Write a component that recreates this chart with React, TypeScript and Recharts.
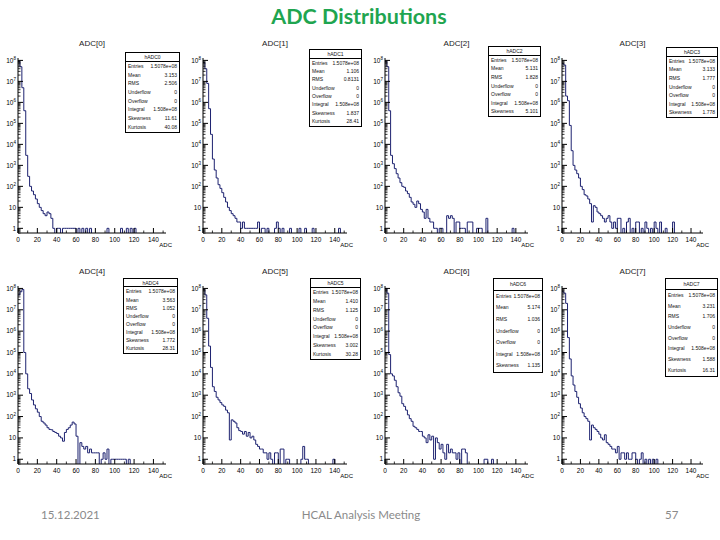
import React from 'react';
import { ComposedChart, Line, XAxis, YAxis } from 'recharts';

// ADC histograms, bin width 2 ADC counts, first bin starts at 0
const BIN = 2;

const adc0 = [
  9e7, 5e7, 5e6, 4e5, 3000, 300, 100, 60, 40, 25,
  15, 10, 7, 5, 4, 6, 5, 3, 1, 0,
  1, 1, 0, 1, 1, 1, 1, 1, 1, 1,
  0, 1, 0, 1, 0, 1, 0, 1, 0, 0,
  0, 0, 0, 0, 0, 0, 1, 0, 0, 0,
  0, 0, 0, 1, 0, 0, 1, 0, 1, 0,
  1, 0,
];
const adc1 = [
  8e7, 4e7, 8e6, 5e5, 3e4, 2000, 600, 250, 120, 80,
  50, 30, 18, 10, 7, 5, 4, 3, 2, 2,
  1, 2, 1, 1, 1, 1, 1, 1, 1, 2,
  0, 1, 1, 0, 1, 0, 0, 0, 1, 2,
  1, 0, 1, 0, 0, 0, 1, 0, 0, 0,
  0, 1, 0, 0, 1, 0, 0, 0, 1, 0,
  0, 0, 0, 0, 0, 0, 0, 0, 0, 0,
  0, 0, 1, 0,
];
const adc2 = [
  9e7, 5e7, 4e5, 3000, 1200, 700, 400, 250, 150, 100,
  90, 60, 45, 30, 18, 14, 10, 20, 15, 8,
  6, 3, 8, 3, 2, 2, 1, 1, 0, 1,
  1, 0, 0, 4, 3, 4, 3, 0, 2, 2,
  1, 1, 1, 0, 2, 2, 2, 0, 0, 1,
  1, 1, 0, 0, 3, 0, 0, 0, 0, 0,
  0, 0, 0, 0, 0, 0, 0, 0, 1, 0,
];
const adc3 = [
  7e7, 6e7, 2e6, 1.2e6, 8e4, 5000, 1000, 600, 400, 250,
  100, 70, 40, 35, 25, 15, 2, 12, 10, 6,
  5, 4, 3, 2, 3, 4, 2, 1, 2, 1,
  3, 3, 0, 1, 0, 2, 3, 0, 1, 0,
  2, 2, 0, 1, 0, 2, 1, 0, 1, 0,
  2, 1, 0, 2, 0, 0, 1, 0, 0, 0,
  2, 0,
];
const adc4 = [
  5e7, 7e7, 9e7, 1e5, 1e4, 2000, 1200, 600, 350, 230,
  160, 100, 60, 50, 40, 30, 25, 24, 20, 18,
  16, 12, 10, 7, 18, 25, 30, 40, 55, 45,
  12, 0, 6, 4, 3, 4, 2, 3, 2, 2,
  2, 2, 0, 1, 2, 1, 3, 0, 1, 1,
  1, 1, 1, 1, 1, 1, 0, 1, 0,
];
const adc5 = [
  9e7, 5e7, 4e6, 2e5, 2e4, 2500, 1500, 800, 600, 450,
  350, 300, 200, 150, 8, 70, 60, 50, 30, 22,
  20, 15, 20, 12, 18, 10, 12, 8, 5, 4,
  3, 3, 2, 2, 1, 2, 1, 0, 2, 2,
  0, 3, 3, 0, 1, 1, 0, 0, 0, 0,
  0, 0, 1, 4, 1, 1, 0, 0, 0, 0,
  0, 0, 0, 0, 0, 0, 0, 0, 0, 1,
  0,
];
const adc6 = [
  1e8, 6e7, 8e4, 1e4, 8000, 5000, 2500, 1300, 900, 400,
  300, 200, 120, 80, 60, 35, 30, 25, 20, 20,
  12, 10, 6, 14, 8, 12, 1, 10, 6, 3,
  5, 2, 1, 5, 2, 3, 2, 2, 1, 2,
  0, 3, 3, 2, 0, 0, 0, 0, 0, 0,
  0, 0, 0, 1, 1, 0, 0, 1, 0,
];
const adc7 = [
  7e7, 6e7, 2e7, 5e5, 5e4, 8000, 3000, 1500, 800, 400,
  250, 150, 100, 80, 60, 8, 40, 30, 25, 20,
  15, 10, 8, 14, 6, 5, 4, 3, 3, 2,
  4, 1, 2, 2, 1, 2, 1, 1, 2, 2,
  1, 0, 1, 2, 0, 1, 0, 1, 0, 1,
  0, 1, 0,
];
const histos = [adc0, adc1, adc2, adc3, adc4, adc5, adc6, adc7];

const titles = ['ADC[0]', 'ADC[1]', 'ADC[2]', 'ADC[3]', 'ADC[4]', 'ADC[5]', 'ADC[6]', 'ADC[7]'];
const statNames = ['hADC0', 'hADC1', 'hADC2', 'hADC3', 'hADC4', 'hADC5', 'hADC6', 'hADC7'];
const statLabels = ['Entries', 'Mean', 'RMS', 'Underflow', 'Overflow', 'Integral', 'Skewness', 'Kurtosis'];
const statValues = [
  ['1.5078e+08', '3.153', '2.506', '0', '0', '1.508e+08', '11.61', '40.08'],
  ['1.5078e+08', '1.106', '0.8131', '0', '0', '1.508e+08', '1.837', '28.41'],
  ['1.5078e+08', '5.131', '1.828', '0', '0', '1.508e+08', '5.101'],
  ['1.5078e+08', '3.133', '1.777', '0', '0', '1.508e+08', '1.778'],
  ['1.5078e+08', '3.563', '1.052', '0', '0', '1.508e+08', '1.772', '28.31'],
  ['1.5078e+08', '1.410', '1.125', '0', '0', '1.508e+08', '3.002', '30.28'],
  ['1.5078e+08', '5.174', '1.036', '0', '0', '1.508e+08', '1.135'],
  ['1.5078e+08', '3.231', '1.706', '0', '0', '1.508e+08', '1.588', '16.31'],
];

const xTicks = [0, 20, 40, 60, 80, 100, 120, 140];
const xMinorTicks = [10, 30, 50, 70, 90, 110, 130, 150];
const yTicks = [1, 10, 100, 1e3, 1e4, 1e5, 1e6, 1e7, 1e8];
const yMinorSteps = [2, 3, 4, 5, 6, 7, 8, 9];

const X_MAX = 153;
const Y_MIN = 0.6;
const Y_MAX = 1.3e8;
const EMPTY = 0.3; // empty bins drop below the frame like ROOT's log view

// layout
const colLeft = [18, 203, 385, 562];
const colWidth = [148, 144, 143, 141];
const rowTop = [58, 286];
const rowHeight = [175, 178];
const statBox = [
  [125, 52, 55, 81],
  [309, 49, 53, 78],
  [488, 46, 53, 71],
  [666, 47, 52, 71],
  [123, 278, 55, 76],
  [310, 278, 51, 82],
  [493, 278, 50, 95],
  [665, 278, 53, 99],
];

const Y_AXIS_W = 26;
const X_AXIS_H = 20;
const PAD_TOP = 6;
const PAD_RIGHT = 8;
const HIST_COLOR = '#1d2270';
const TICK_FONT = '"Liberation Sans", Arial, sans-serif';

const yMinor: number[] = [];
[0.1, ...yTicks.slice(0, -1)].forEach((d) =>
  yMinorSteps.forEach((m) => {
    const v = m * d;
    if (v >= Y_MIN && v <= Y_MAX) yMinor.push(v);
  })
);
const allYTicks = [...yTicks, ...yMinor];
const allXTicks = [...xTicks, ...xMinorTicks.filter((v) => v <= X_MAX)];

const XTick = (props: any) => {
  const { x, y, payload } = props;
  const v = payload.value;
  if (!xTicks.includes(v)) {
    return <line x1={x} x2={x} y1={y} y2={y - 2.5} stroke="#000" strokeWidth={0.8} />;
  }
  return (
    <g>
      <line x1={x} x2={x} y1={y} y2={y - 5} stroke="#000" strokeWidth={1} />
      <text x={x} y={y + 9} textAnchor="middle" fontSize={6.5} fontFamily={TICK_FONT} fill="#000">
        {v}
      </text>
    </g>
  );
};

const YTick = (props: any) => {
  const { x, y, payload } = props;
  const v = payload.value;
  if (!yTicks.includes(v)) {
    return <line x1={x} x2={x + 2.5} y1={y} y2={y} stroke="#000" strokeWidth={0.8} />;
  }
  const exp = Math.round(Math.log10(v));
  return (
    <g>
      <line x1={x} x2={x + 5} y1={y} y2={y} stroke="#000" strokeWidth={1} />
      <text x={x - 2} y={y + 2.2} textAnchor="end" fontSize={6.5} fontFamily={TICK_FONT} fill="#000">
        {exp <= 1 ? (
          String(v)
        ) : (
          <>
            <tspan>10</tspan>
            <tspan dy={-2.8} fontSize={4.5}>{exp}</tspan>
          </>
        )}
      </text>
    </g>
  );
};

const Panel = ({ idx }: { idx: number }) => {
  const col = idx % 4;
  const row = Math.floor(idx / 4);
  const fl = colLeft[col];
  const fw = colWidth[col];
  const ft = rowTop[row];
  const fh = rowHeight[row];
  const counts = histos[idx];
  const data = counts.map((c, i) => ({ x: i * BIN, c: c > 0 ? c : EMPTY }));
  data.push({ x: counts.length * BIN, c: EMPTY });

  return (
    <>
      <div
        style={{
          position: 'absolute',
          left: fl + fw / 2 - 40,
          width: 80,
          top: ft - 19,
          textAlign: 'center',
          fontSize: 8,
          fontFamily: TICK_FONT,
          color: '#222',
        }}
      >
        {titles[idx]}
      </div>
      <div style={{ position: 'absolute', left: fl - Y_AXIS_W, top: ft - PAD_TOP }}>
        <ComposedChart
          width={Y_AXIS_W + fw + PAD_RIGHT}
          height={PAD_TOP + fh + X_AXIS_H}
          data={data}
          margin={{ top: PAD_TOP, right: PAD_RIGHT, left: 0, bottom: 0 }}
        >
          <XAxis
            xAxisId="b"
            dataKey="x"
            type="number"
            domain={[0, X_MAX]}
            allowDataOverflow
            ticks={allXTicks}
            interval={0}
            tick={(p: any) => <XTick {...p} />}
            tickSize={0}
            tickMargin={0}
            tickLine={false}
            height={X_AXIS_H}
            axisLine={{ stroke: '#000' }}
          />
          <XAxis
            xAxisId="t"
            orientation="top"
            type="number"
            domain={[0, X_MAX]}
            tick={false}
            tickLine={false}
            height={0}
            axisLine={{ stroke: '#000' }}
          />
          <YAxis
            yAxisId="l"
            type="number"
            scale="log"
            domain={[Y_MIN, Y_MAX]}
            allowDataOverflow
            ticks={allYTicks}
            interval={0}
            tick={(p: any) => <YTick {...p} />}
            tickSize={0}
            tickMargin={0}
            tickLine={false}
            width={Y_AXIS_W}
            axisLine={{ stroke: '#000' }}
          />
          <YAxis
            yAxisId="r"
            orientation="right"
            type="number"
            scale="log"
            domain={[Y_MIN, Y_MAX]}
            allowDataOverflow
            tick={false}
            tickLine={false}
            width={0}
            axisLine={{ stroke: '#000' }}
          />
          <Line
            xAxisId="b"
            yAxisId="l"
            type="stepAfter"
            dataKey="c"
            stroke={HIST_COLOR}
            strokeWidth={1}
            dot={false}
            isAnimationActive={false}
          />
        </ComposedChart>
      </div>
      <div
        style={{
          position: 'absolute',
          left: fl + fw - 14,
          width: 20,
          top: ft + fh + 9,
          textAlign: 'right',
          fontSize: 6,
          fontFamily: TICK_FONT,
          color: '#000',
        }}
      >
        ADC
      </div>
    </>
  );
};

const StatBox = ({ idx }: { idx: number }) => {
  const [l, t, w, h] = statBox[idx];
  const vals = statValues[idx];
  const rowH = h / (vals.length + 1);
  return (
    <div
      style={{
        position: 'absolute',
        left: l,
        top: t,
        width: w,
        height: h,
        boxSizing: 'border-box',
        border: '1px solid #000',
        background: '#fff',
        fontFamily: TICK_FONT,
        fontSize: 5,
        color: '#111',
      }}
    >
      <div
        style={{
          height: rowH,
          lineHeight: `${rowH}px`,
          textAlign: 'center',
          borderBottom: '1px solid #000',
          boxSizing: 'border-box',
        }}
      >
        {statNames[idx]}
      </div>
      {vals.map((v, i) => (
        <div
          key={i}
          style={{
            height: rowH - 0.3,
            lineHeight: `${rowH - 0.3}px`,
            display: 'flex',
            justifyContent: 'space-between',
            padding: '0 2px',
          }}
        >
          <span>{statLabels[i]}</span>
          <span>{v}</span>
        </div>
      ))}
    </div>
  );
};

export default function App() {
  const ids = [0, 1, 2, 3, 4, 5, 6, 7];
  return (
    <div
      style={{
        position: 'absolute',
        left: 0,
        top: 0,
        width: 720,
        height: 540,
        background: '#fff',
        overflow: 'hidden',
      }}
    >
      <div
        style={{
          position: 'absolute',
          left: 0,
          width: 718,
          top: 3,
          textAlign: 'center',
          fontFamily: 'Lato, "Open Sans", sans-serif',
          fontWeight: 700,
          fontSize: 21.5,
          color: '#1fa550',
        }}
      >
        ADC Distributions
      </div>
      {ids.map((i) => (
        <Panel key={`p${i}`} idx={i} />
      ))}
      {ids.map((i) => (
        <StatBox key={`s${i}`} idx={i} />
      ))}
      <div
        style={{
          position: 'absolute',
          left: 41,
          top: 508,
          fontFamily: 'Lato, sans-serif',
          fontSize: 11.5,
          color: '#8a8a8a',
        }}
      >
        15.12.2021
      </div>
      <div
        style={{
          position: 'absolute',
          left: 0,
          width: 722,
          top: 508,
          textAlign: 'center',
          fontFamily: 'Lato, sans-serif',
          fontSize: 11.5,
          color: '#8a8a8a',
        }}
      >
        HCAL Analysis Meeting
      </div>
      <div
        style={{
          position: 'absolute',
          left: 665,
          top: 508,
          fontFamily: 'Lato, sans-serif',
          fontSize: 11.5,
          color: '#8a8a8a',
        }}
      >
        57
      </div>
    </div>
  );
}
